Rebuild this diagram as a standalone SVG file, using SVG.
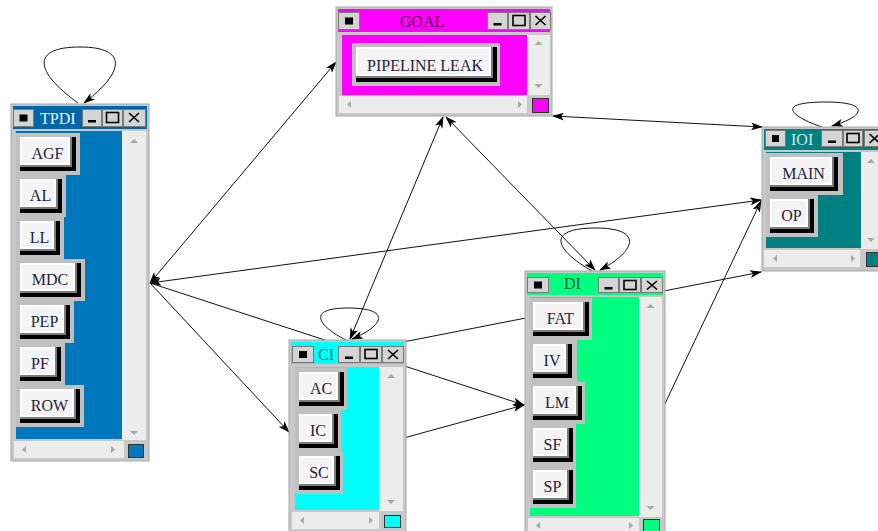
<svg xmlns="http://www.w3.org/2000/svg" width="878" height="531" viewBox="0 0 878 531">
<defs>
<marker id="ah" viewBox="0 0 12 8" refX="11" refY="4" markerWidth="12" markerHeight="8" markerUnits="userSpaceOnUse" orient="auto-start-reverse"><path d="M0,0 L12,4 L0,8 L3,4 z" fill="#000"/></marker>
</defs>
<style>
.frame{fill:#c8c8c8;stroke:#a8a8a8;stroke-width:1}
.tb{fill:#d4d4d4;stroke:#7a7a7a;stroke-width:1}
.ic{fill:none;stroke:#000;stroke-width:1.6}
.sq{fill:#000}
.sc{fill:#ececec}
.ar{fill:#a8a8a8}
.cell{fill:#c0c0c0}
.bs{fill:#000}
.bd{fill:#7c7c7c}
.bf{fill:#f4f4f4}
.bw{fill:#ffffff}
.bt{font-family:"Liberation Serif",serif;font-size:16px;fill:#1e1e3c;text-anchor:middle}
.tt{font-family:"Liberation Serif",serif;font-size:16px}
.cn{fill:none;stroke:#111;stroke-width:1}
.cs{stroke:#222;stroke-width:1}
</style>
<rect width="878" height="531" fill="#ffffff"/>

<g id="connectors">
<path class="cn" d="M150,283 L336,62" marker-start="url(#ah)" marker-end="url(#ah)"/>
<path class="cn" d="M150,283 L761,200" marker-start="url(#ah)" marker-end="url(#ah)"/>
<path class="cn" d="M150,283 L289,432" marker-end="url(#ah)"/>
<path class="cn" d="M150,283 L524,405" marker-end="url(#ah)"/>
<path class="cn" d="M400,439 L524,405" marker-end="url(#ah)"/>
<path class="cn" d="M398,343 L761,272" marker-end="url(#ah)"/>
<path class="cn" d="M662,410 L761,201" marker-end="url(#ah)"/>
<path class="cn" d="M553,116 L762,127" marker-start="url(#ah)" marker-end="url(#ah)"/>
<path class="cn" d="M443,117 L350,339" marker-start="url(#ah)" marker-end="url(#ah)"/>
<path class="cn" d="M446,117 L595,270" marker-start="url(#ah)" marker-end="url(#ah)"/>
<path class="cn" d="M78,103 C35,72 30,47 80,47 C128,47 125,72 84,103" marker-end="url(#ah)"/>
<path class="cn" d="M346,340 C318,326 306,308 348,308 C392,308 384,326 352,339" marker-end="url(#ah)"/>
<path class="cn" d="M592,271 C555,250 545,228 596,228 C642,228 638,250 600,270" marker-end="url(#ah)"/>
<path class="cn" d="M822,127 C790,116 775,102 826,102 C870,102 866,116 832,126" marker-end="url(#ah)"/>
</g>

<g id="TPDI">
<rect class="frame" x="11" y="104" width="138" height="357"/>
<rect x="13" y="106" width="134" height="23" fill="#0066a6"/>
<rect class="tb" x="13.5" y="109.5" width="20" height="17"/><rect class="sq" x="19.5" y="114.5" width="8" height="7"/>
<text class="tt" x="40" y="124" fill="#eef2f6">TPDI</text>
<rect class="tb" x="82.5" y="109.5" width="19" height="17"/><rect class="sq" x="88" y="120" width="8" height="2.5"/>
<rect class="tb" x="102.5" y="109.5" width="20" height="17"/><rect class="ic" x="106.5" y="112.5" width="12" height="10"/>
<rect class="tb" x="123.5" y="109.5" width="22" height="17"/><path class="ic" d="M129,113 L139,122 M139,113 L129,122"/>
<rect x="16" y="131" width="106" height="308" fill="#0077bd"/>
<rect class="sc" x="122" y="131" width="24" height="309"/>
<polygon class="ar" points="130,143 134,139 138,143"/><polygon class="ar" points="130,431 134,435 138,431"/>
<rect class="sc" x="14" y="441" width="110" height="17"/>
<polygon class="ar" points="26,446 22,449.5 26,453"/><polygon class="ar" points="111,446 115,449.5 111,453"/>
<rect x="128.5" y="444.5" width="15" height="13" fill="#0077bd" stroke="#333"/>
<rect class="cell" x="16" y="133" width="64" height="42"/>
<rect class="bs" x="20" y="137" width="56" height="34"/><rect class="bd" x="20" y="137" width="52" height="30"/><rect class="bw" x="20" y="137" width="50" height="28"/><rect class="bf" x="22" y="139" width="46" height="24"/>
<text class="bt" x="47.5" y="159">AGF</text>
<rect class="cell" x="16" y="175" width="50" height="42"/>
<rect class="bs" x="20" y="179" width="42" height="34"/><rect class="bd" x="20" y="179" width="38" height="30"/><rect class="bw" x="20" y="179" width="36" height="28"/><rect class="bf" x="22" y="181" width="32" height="24"/>
<text class="bt" x="40.5" y="201">AL</text>
<rect class="cell" x="16" y="217" width="48" height="42"/>
<rect class="bs" x="20" y="221" width="40" height="34"/><rect class="bd" x="20" y="221" width="36" height="30"/><rect class="bw" x="20" y="221" width="34" height="28"/><rect class="bf" x="22" y="223" width="30" height="24"/>
<text class="bt" x="39.5" y="243">LL</text>
<rect class="cell" x="16" y="259" width="69" height="42"/>
<rect class="bs" x="20" y="263" width="61" height="34"/><rect class="bd" x="20" y="263" width="57" height="30"/><rect class="bw" x="20" y="263" width="55" height="28"/><rect class="bf" x="22" y="265" width="51" height="24"/>
<text class="bt" x="50" y="285">MDC</text>
<rect class="cell" x="16" y="301" width="58" height="42"/>
<rect class="bs" x="20" y="305" width="50" height="34"/><rect class="bd" x="20" y="305" width="46" height="30"/><rect class="bw" x="20" y="305" width="44" height="28"/><rect class="bf" x="22" y="307" width="40" height="24"/>
<text class="bt" x="44.5" y="327">PEP</text>
<rect class="cell" x="16" y="343" width="49" height="42"/>
<rect class="bs" x="20" y="347" width="41" height="34"/><rect class="bd" x="20" y="347" width="37" height="30"/><rect class="bw" x="20" y="347" width="35" height="28"/><rect class="bf" x="22" y="349" width="31" height="24"/>
<text class="bt" x="40" y="369">PF</text>
<rect class="cell" x="16" y="385" width="68" height="42"/>
<rect class="bs" x="20" y="389" width="60" height="34"/><rect class="bd" x="20" y="389" width="56" height="30"/><rect class="bw" x="20" y="389" width="54" height="28"/><rect class="bf" x="22" y="391" width="50" height="24"/>
<text class="bt" x="49.5" y="411">ROW</text>
</g>

<g id="GOAL">
<rect class="frame" x="336" y="7" width="216" height="109"/>
<rect x="338" y="9" width="212" height="23" fill="#ff00ff"/>
<rect class="tb" x="338.5" y="12.5" width="21" height="17"/><rect class="sq" x="345" y="17.5" width="8" height="7"/>
<text class="tt" x="422" y="27" fill="#500050" text-anchor="middle">GOAL</text>
<rect class="tb" x="487.5" y="12.5" width="20" height="17"/><rect class="sq" x="493.5" y="23" width="8" height="2.5"/>
<rect class="tb" x="508.5" y="12.5" width="21" height="17"/><rect class="ic" x="513" y="15.5" width="12" height="10"/>
<rect class="tb" x="530.5" y="12.5" width="20" height="17"/><path class="ic" d="M535.5,16 L545.5,25 M545.5,16 L535.5,25"/>
<rect x="342" y="35" width="185" height="60" fill="#ff00ff"/>
<rect class="sc" x="527" y="35" width="23" height="60"/>
<polygon class="ar" points="534.5,45 538.5,41 542.5,45"/><polygon class="ar" points="534.5,84 538.5,88 542.5,84"/>
<rect class="sc" x="339" y="96" width="188" height="17"/>
<polygon class="ar" points="351,101 347,104.5 351,108"/><polygon class="ar" points="518,101 522,104.5 518,108"/>
<rect x="532.5" y="98.5" width="16" height="14" fill="#ff00ff" stroke="#333"/>
<rect class="cell" x="352" y="43" width="148" height="43"/>
<rect class="bs" x="356" y="47" width="141" height="35"/><rect class="bd" x="356" y="47" width="137" height="31"/><rect class="bw" x="356" y="47" width="135" height="29"/><rect class="bf" x="358" y="49" width="131" height="25"/>
<text class="bt" x="425" y="71">PIPELINE LEAK</text>
</g>

<g id="IOI">
<rect class="frame" x="762" y="127" width="130" height="144"/>
<rect x="764" y="129" width="128" height="21" fill="#008080"/>
<rect class="tb" x="765.5" y="130.5" width="20" height="16"/><rect class="sq" x="772" y="135" width="7" height="7"/>
<text class="tt" x="791" y="145" fill="#c8ecec">IOI</text>
<rect class="tb" x="821.5" y="130.5" width="21" height="16"/><rect class="sq" x="828" y="140.5" width="8" height="2.5"/>
<rect class="tb" x="843.5" y="130.5" width="19" height="16"/><rect class="ic" x="847" y="133.5" width="12" height="9"/>
<rect class="tb" x="864.5" y="130.5" width="20" height="16"/><path class="ic" d="M869.5,134 L879.5,143 M879.5,134 L869.5,143"/>
<rect x="766" y="152" width="95" height="96" fill="#008080"/>
<rect class="sc" x="861" y="152" width="22" height="97"/>
<polygon class="ar" points="867,163 871,159 875,163"/><polygon class="ar" points="867,238 871,242 875,238"/>
<rect class="sc" x="764" y="250" width="96" height="17"/>
<polygon class="ar" points="777,255 773,258.5 777,262"/><polygon class="ar" points="851,255 855,258.5 851,262"/>
<rect x="866.5" y="252.5" width="16" height="14" fill="#008080" stroke="#333"/>
<rect class="cell" x="766" y="153" width="77" height="42"/>
<rect class="bs" x="770" y="157" width="68" height="34"/><rect class="bd" x="770" y="157" width="64" height="30"/><rect class="bw" x="770" y="157" width="62" height="28"/><rect class="bf" x="772" y="159" width="58" height="24"/>
<text class="bt" x="803.5" y="179">MAIN</text>
<rect class="cell" x="766" y="195" width="52" height="42"/>
<rect class="bs" x="770" y="199" width="44" height="34"/><rect class="bd" x="770" y="199" width="40" height="30"/><rect class="bw" x="770" y="199" width="38" height="28"/><rect class="bf" x="772" y="201" width="34" height="24"/>
<text class="bt" x="791.5" y="221">OP</text>
</g>

<g id="CI">
<rect class="frame" x="289" y="340" width="117" height="195"/>
<rect x="291" y="342" width="113" height="22" fill="#00ffff"/>
<rect class="tb" x="292.5" y="346.5" width="21" height="16"/><rect class="sq" x="299" y="351" width="8" height="7"/>
<text class="tt" x="318" y="360" fill="#007070">CI</text>
<rect class="tb" x="338.5" y="346.5" width="21" height="16"/><rect class="sq" x="345" y="356.5" width="8" height="2.5"/>
<rect class="tb" x="360.5" y="346.5" width="21" height="16"/><rect class="ic" x="365" y="349.5" width="12" height="9"/>
<rect class="tb" x="382.5" y="346.5" width="21" height="16"/><path class="ic" d="M388,350 L398,359 M398,350 L388,359"/>
<rect x="295" y="367" width="84" height="143" fill="#00ffff"/>
<rect class="sc" x="379" y="367" width="24" height="144"/>
<polygon class="ar" points="387,378 391,374 395,378"/><polygon class="ar" points="387,500 391,504 395,500"/>
<rect class="sc" x="292" y="512" width="87" height="17"/>
<polygon class="ar" points="304,517 300,520.5 304,524"/><polygon class="ar" points="369,517 373,520.5 369,524"/>
<rect x="384.5" y="515.5" width="16" height="12" fill="#00ffff" stroke="#333"/>
<rect class="cell" x="295" y="368" width="52" height="42"/>
<rect class="bs" x="299" y="372" width="45" height="34"/><rect class="bd" x="299" y="372" width="41" height="30"/><rect class="bw" x="299" y="372" width="39" height="28"/><rect class="bf" x="301" y="374" width="35" height="24"/>
<text class="bt" x="321" y="394">AC</text>
<rect class="cell" x="295" y="410" width="46" height="42"/>
<rect class="bs" x="299" y="414" width="39" height="34"/><rect class="bd" x="299" y="414" width="35" height="30"/><rect class="bw" x="299" y="414" width="33" height="28"/><rect class="bf" x="301" y="416" width="29" height="24"/>
<text class="bt" x="318" y="436">IC</text>
<rect class="cell" x="295" y="452" width="48" height="42"/>
<rect class="bs" x="299" y="456" width="41" height="34"/><rect class="bd" x="299" y="456" width="37" height="30"/><rect class="bw" x="299" y="456" width="35" height="28"/><rect class="bf" x="301" y="458" width="31" height="24"/>
<text class="bt" x="319" y="478">SC</text>
</g>

<g id="DI">
<rect class="frame" x="525" y="271" width="140" height="265"/>
<rect x="527" y="273" width="136" height="22" fill="#00ff80"/>
<rect class="tb" x="527.5" y="277.5" width="21" height="15"/><rect class="sq" x="534" y="281.5" width="8" height="7"/>
<text class="tt" x="564" y="289" fill="#006038">DI</text>
<rect class="tb" x="598.5" y="277.5" width="20" height="15"/><rect class="sq" x="604.5" y="287" width="8" height="2.5"/>
<rect class="tb" x="619.5" y="277.5" width="21" height="15"/><rect class="ic" x="624" y="280.5" width="12" height="9"/>
<rect class="tb" x="641.5" y="277.5" width="21" height="15"/><path class="ic" d="M647,281 L657,289.5 M657,281 L647,289.5"/>
<rect x="530" y="297" width="109" height="219" fill="#00ff80"/>
<rect class="sc" x="639" y="297" width="23" height="220"/>
<polygon class="ar" points="646.5,308 650.5,304 654.5,308"/><polygon class="ar" points="646.5,506 650.5,510 654.5,506"/>
<rect class="sc" x="528" y="518" width="111" height="17"/>
<polygon class="ar" points="540,522 536,525.5 540,529"/><polygon class="ar" points="629,522 633,525.5 629,529"/>
<rect x="643.5" y="519.5" width="16" height="14" fill="#00ff80" stroke="#333"/>
<rect class="cell" x="530" y="298" width="62" height="42"/>
<rect class="bs" x="533" y="302" width="56" height="34"/><rect class="bd" x="533" y="302" width="52" height="30"/><rect class="bw" x="533" y="302" width="50" height="28"/><rect class="bf" x="535" y="304" width="46" height="24"/>
<text class="bt" x="560.5" y="324">FAT</text>
<rect class="cell" x="530" y="340" width="47" height="42"/>
<rect class="bs" x="533" y="344" width="39" height="34"/><rect class="bd" x="533" y="344" width="35" height="30"/><rect class="bw" x="533" y="344" width="33" height="28"/><rect class="bf" x="535" y="346" width="29" height="24"/>
<text class="bt" x="552" y="366">IV</text>
<rect class="cell" x="530" y="382" width="55" height="42"/>
<rect class="bs" x="533" y="386" width="49" height="34"/><rect class="bd" x="533" y="386" width="45" height="30"/><rect class="bw" x="533" y="386" width="43" height="28"/><rect class="bf" x="535" y="388" width="39" height="24"/>
<text class="bt" x="557" y="408">LM</text>
<rect class="cell" x="530" y="424" width="46" height="42"/>
<rect class="bs" x="533" y="428" width="40" height="34"/><rect class="bd" x="533" y="428" width="36" height="30"/><rect class="bw" x="533" y="428" width="34" height="28"/><rect class="bf" x="535" y="430" width="30" height="24"/>
<text class="bt" x="552.5" y="450">SF</text>
<rect class="cell" x="530" y="466" width="46" height="42"/>
<rect class="bs" x="533" y="470" width="40" height="34"/><rect class="bd" x="533" y="470" width="36" height="30"/><rect class="bw" x="533" y="470" width="34" height="28"/><rect class="bf" x="535" y="472" width="30" height="24"/>
<text class="bt" x="552.5" y="492">SP</text>
</g>
</svg>
